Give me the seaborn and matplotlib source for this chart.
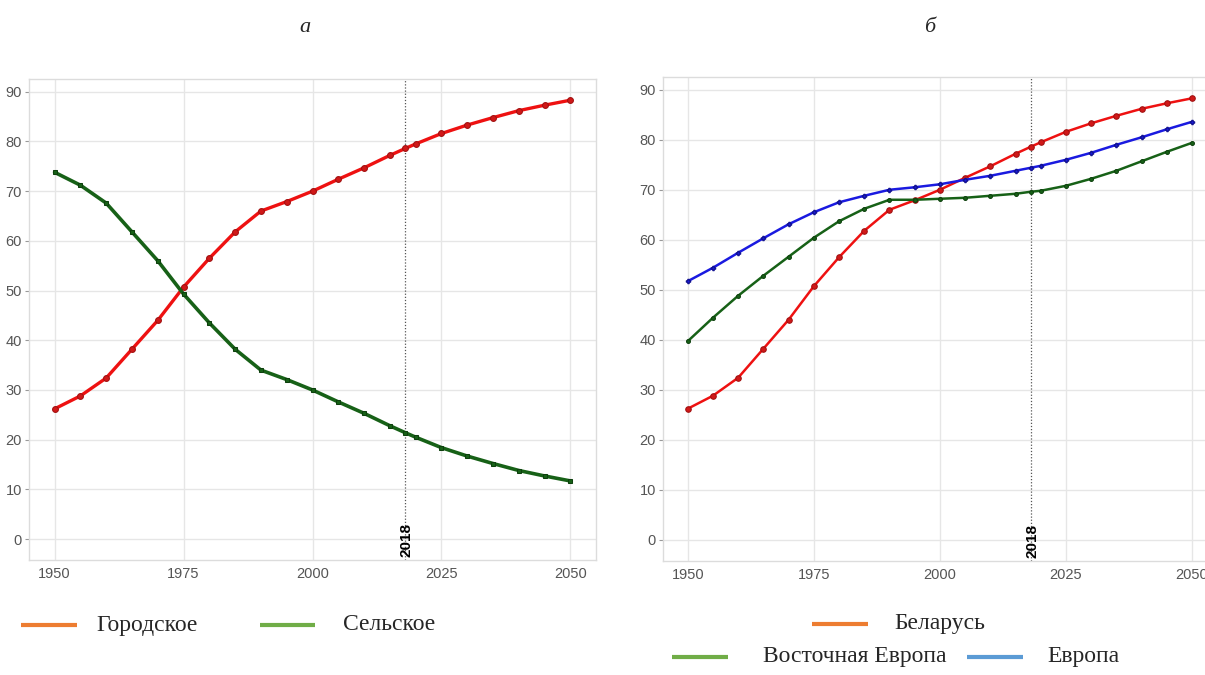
import numpy as np
import pandas as pd
import seaborn as sns
import matplotlib.pyplot as plt
from matplotlib.lines import Line2D

##################
## Data         ##
##################

years = [1950, 1955, 1960, 1965, 1970, 1975, 1980, 1985, 1990, 1995, 2000,
         2005, 2010, 2015, 2018, 2020, 2025, 2030, 2035, 2040, 2045, 2050]

urban = [26.2, 28.8, 32.4, 38.2, 44.0, 50.7, 56.5, 61.8, 66.0, 67.9, 70.0,
         72.4, 74.7, 77.2, 78.6, 79.5, 81.6, 83.3, 84.8, 86.2, 87.3, 88.3]
rural = [73.8, 71.2, 67.6, 61.8, 56.0, 49.3, 43.5, 38.2, 34.0, 32.1, 30.0,
         27.6, 25.3, 22.8, 21.4, 20.5, 18.4, 16.7, 15.2, 13.8, 12.7, 11.7]

belarus = urban
east_europe = [39.7, 44.4, 48.8, 52.8, 56.6, 60.4, 63.7, 66.2, 68.0, 68.0, 68.2,
               68.4, 68.8, 69.2, 69.6, 69.8, 70.8, 72.2, 73.8, 75.7, 77.6, 79.4]
europe = [51.7, 54.4, 57.4, 60.3, 63.1, 65.5, 67.5, 68.8, 70.0, 70.5, 71.1,
          72.0, 72.8, 73.8, 74.4, 74.8, 76.0, 77.4, 79.0, 80.5, 82.1, 83.6]

marker_year = 2018
x_ticks = [1950, 1975, 2000, 2025, 2050]
y_ticks = list(range(0, 100, 10))

left_names = ["Городское", "Сельское"]
right_names = ["Беларусь", "Восточная Европа", "Европа"]
titles = ["а", "б"]

df_left = pd.DataFrame({"year": years * 2,
                        "value": urban + rural,
                        "series": [left_names[0]] * len(years) + [left_names[1]] * len(years)})
df_right = pd.DataFrame({"year": years * 3,
                         "value": belarus + east_europe + europe,
                         "series": [right_names[0]] * len(years) + [right_names[1]] * len(years)
                                   + [right_names[2]] * len(years)})

##################
## Style        ##
##################

sns.set_style("whitegrid")
plt.rcParams['font.family'] = ['Liberation Sans', 'DejaVu Sans']

RED = "#ee1111"
RED_EDGE = "#a01010"
GREEN = "#176117"
BLUE = "#1a1ae0"

fig = plt.figure(figsize=(12.05, 6.75), dpi=100)
ax1 = fig.add_axes([0.0241, 0.1704, 0.4705, 0.7121])
ax2 = fig.add_axes([0.5500, 0.1693, 0.4600, 0.7162])


def style_axes(ax):
    ax.set_xlim(1945.05, 2054.95)
    ax.set_ylim(-4.2, 92.5)
    ax.set_xticks(x_ticks)
    ax.set_yticks(y_ticks)
    ax.grid(True, color="#e6e6e6", linewidth=1.0)
    for s in ax.spines.values():
        s.set_color("#dcdcdc")
        s.set_linewidth(1.0)
    ax.tick_params(axis="both", labelsize=10.5, labelcolor="#555555",
                   color="#999999", length=3, width=0.8, pad=2,
                   left=True, bottom=False)
    ax.set_xlabel("")
    ax.set_ylabel("")
    ax.axvline(marker_year, color="#555555", linestyle=(0, (1, 1.5)), linewidth=0.9, zorder=1)
    ax.text(marker_year + 0.3, -3.6, str(marker_year), rotation=90, ha="center", va="bottom",
            fontsize=11, fontweight="bold", color="black")


# left panel
sns.lineplot(data=df_left[df_left.series == left_names[0]], x="year", y="value",
             color=RED, linewidth=2.4, marker="o", markersize=4.2,
             markeredgecolor=RED_EDGE, markerfacecolor="#d01818", ax=ax1, legend=False)
sns.lineplot(data=df_left[df_left.series == left_names[1]], x="year", y="value",
             color=GREEN, linewidth=2.6, marker="s", markersize=3.2,
             markeredgecolor="#0d400d", ax=ax1, legend=False)
style_axes(ax1)

# right panel
sns.lineplot(data=df_right[df_right.series == right_names[0]], x="year", y="value",
             color=RED, linewidth=1.8, marker="o", markersize=4,
             markeredgecolor=RED_EDGE, markerfacecolor="#d01818", ax=ax2, legend=False)
sns.lineplot(data=df_right[df_right.series == right_names[1]], x="year", y="value",
             color=GREEN, linewidth=1.8, marker="o", markersize=2.8,
             markeredgecolor="#0d400d", ax=ax2, legend=False)
sns.lineplot(data=df_right[df_right.series == right_names[2]], x="year", y="value",
             color=BLUE, linewidth=1.8, marker="P", markersize=3.2,
             markeredgecolor="#10108a", ax=ax2, legend=False)
style_axes(ax2)

# titles
serif = ['Liberation Serif', 'DejaVu Serif']
fig.text(305 / 1205, 1 - 28 / 675, titles[0], family=serif, style="italic",
         fontsize=16, ha="center", va="center")
fig.text(930 / 1205, 1 - 28 / 675, titles[1], family=serif, style="italic",
         fontsize=16, ha="center", va="center")

# legends (drawn by hand to follow the source layout)
LEG_ORANGE = "#ed7d31"
LEG_GREEN = "#70ad47"
LEG_BLUE = "#5b9bd5"


def legend_item(x0, x1, y, tx, label, color):
    yy = 1 - y / 675
    fig.add_artist(Line2D([x0 / 1205, x1 / 1205], [yy, yy], color=color, linewidth=3,
                          solid_capstyle="butt", transform=fig.transFigure))
    fig.text(tx / 1205, yy, label, family=serif, fontsize=17, ha="left", va="center")


legend_item(21, 77, 625, 96, left_names[0], LEG_ORANGE)
legend_item(260, 315, 625, 343, left_names[1], LEG_GREEN)
legend_item(812, 868, 624, 894, right_names[0], LEG_ORANGE)
legend_item(672, 728, 656.5, 763, right_names[1], LEG_GREEN)
legend_item(967, 1023, 656.5, 1047, right_names[2], LEG_BLUE)

plt.savefig("out.png", dpi=100)
